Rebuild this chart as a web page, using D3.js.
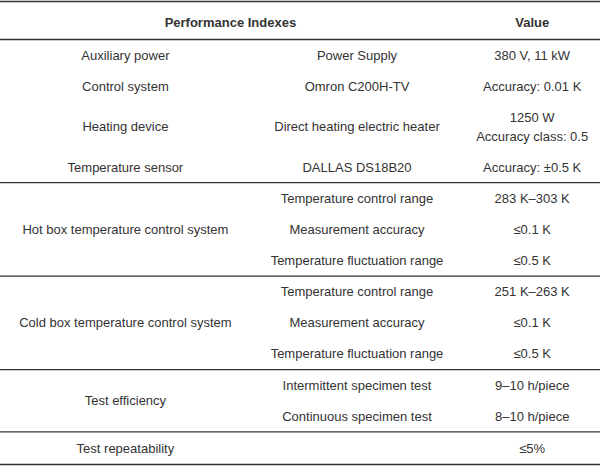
<!DOCTYPE html>
<html><head><meta charset="utf-8">
<script src="https://cdn.jsdelivr.net/npm/d3@7"></script>
<style>body{margin:0;background:#fff}svg{display:block}</style>
</head><body>
<div id="chart"></div>
<script>
const headers = ["Performance Indexes", "Value"];
// groups: label in column 1, sub-rows with [col2, col3 lines]
const groupLabels = ["Auxiliary power", "Control system", "Heating device", "Temperature sensor",
  "Hot box temperature control system", "Cold box temperature control system", "Test efficiency", "Test repeatability"];
const groupSub = [
  [["Power Supply", ["380 V, 11 kW"]]],
  [["Omron C200H-TV", ["Accuracy: 0.01 K"]]],
  [["Direct heating electric heater", ["1250 W", "Accuracy class: 0.5"]]],
  [["DALLAS DS18B20", ["Accuracy: ±0.5 K"]]],
  [["Temperature control range", ["283 K–303 K"]], ["Measurement accuracy", ["≤0.1 K"]], ["Temperature fluctuation range", ["≤0.5 K"]]],
  [["Temperature control range", ["251 K–263 K"]], ["Measurement accuracy", ["≤0.1 K"]], ["Temperature fluctuation range", ["≤0.5 K"]]],
  [["Intermittent specimen test", ["9–10 h/piece"]], ["Continuous specimen test", ["8–10 h/piece"]]],
  [["", ["≤5%"]]]
];
const ruleAfter = [false, false, false, true, true, true, true, true];

const W = 600, H = 467;
const svg = d3.select("#chart").append("svg").attr("width", W).attr("height", H);
const font = "'Liberation Sans', Arial, sans-serif";
const fs = 13, col = "#333";

// row units
const rows = [];
const groups = [];
let u = 0;
groupSub.forEach((subs, gi) => {
  const start = u;
  subs.forEach((s, si) => {
    let h = s[1].length > 1 ? 1.6 : 1;
    if (gi === groupSub.length - 1) h = 1.05;
    rows.push({g: gi, c2: s[0], c3: s[1], u0: u, u1: u + h});
    u += h;
  });
  groups.push({text: groupLabels[gi], u0: start, u1: u, rule: ruleAfter[gi]});
});
const headerTop = 1.5, headerBot = 39.5, tableBot = 464.5;
const y = d3.scaleLinear().domain([0, u]).range([headerBot, tableBot]);
const x = d3.scaleLinear().domain([0, 1]).range([0, W]);
const c1 = x(0.209), c2 = x(0.595), c3 = x(0.887), hc = x(0.384);

function txt(xx, yy, t, bold) {
  svg.append("text").attr("x", xx).attr("y", yy).attr("text-anchor", "middle")
    .attr("dominant-baseline", "central").attr("font-family", font).attr("font-size", fs)
    .attr("font-weight", bold ? "bold" : "normal").attr("fill", col).text(t);
}
function rule(yy) {
  svg.append("line").attr("x1", 0).attr("x2", W).attr("y1", yy).attr("y2", yy)
    .attr("stroke", "#333").attr("stroke-width", 1.3);
}
rule(headerTop); rule(headerBot);
txt(hc, (headerTop + headerBot) / 2 + 1.5, headers[0], true);
txt(c3, (headerTop + headerBot) / 2 + 1.5, headers[1], true);

groups.forEach(g => {
  txt(c1, (y(g.u0) + y(g.u1)) / 2, g.text);
  if (g.rule) rule(y(g.u1));
});
rows.forEach(r => {
  const m = (y(r.u0) + y(r.u1)) / 2;
  if (r.c2) txt(c2, m, r.c2);
  const n = r.c3.length;
  r.c3.forEach((t, i) => txt(c3, m + (i - (n - 1) / 2) * 19, t));
});
</script>
</body></html>
